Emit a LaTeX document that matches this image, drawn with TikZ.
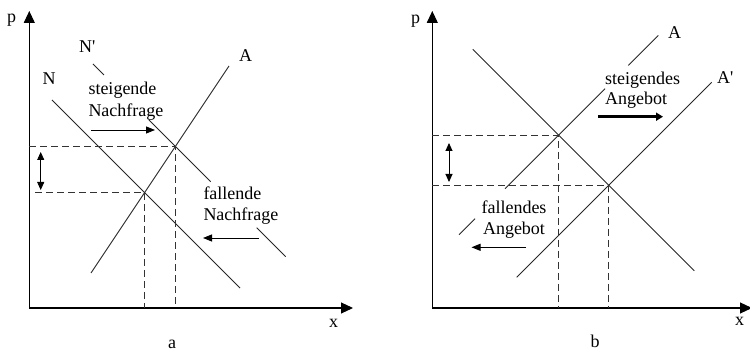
\documentclass[tikz,border=0pt]{standalone}
\usepackage{fontspec}
\setmainfont{Liberation Serif}
\usetikzlibrary{arrows.meta}
\begin{document}
\begin{tikzpicture}[x=1pt,y=-1pt,
  curve/.style={line width=0.9pt, black!85},
  axis/.style={line width=1.1pt, -{Triangle[length=12pt,width=11pt]}},
  helpline/.style={line width=0.9pt, dash pattern=on 7pt off 4pt, black!80},
  shiftarrow/.style={line width=0.9pt,-{Triangle[length=9pt,width=7pt]}},
  thickarrow/.style={line width=3pt,-{Triangle[length=7pt,width=8pt]}},
  dblarrow/.style={line width=0.9pt,{Triangle[length=8pt,width=7pt]}-{Triangle[length=8pt,width=7pt]}},
  lbl/.style={font=\fontsize{18}{21}\selectfont, inner sep=0pt, anchor=base west},
  lblc/.style={font=\fontsize{18}{21}\selectfont, inner sep=0pt, anchor=base},
  ]
\useasboundingbox (0,0) rectangle (750,352);

% ---------------- panel a ----------------
\coordinate (aO) at (29.3,308);
\coordinate (aY) at (29.3,11);
\coordinate (aX) at (353,308);
\draw[axis] (aO) -- (aY);
\draw[axis] (aO) -- (aX);
\node[lbl] (ap) at (7,23) {p};
\node[lbl] (ax) at (329,328) {x};
\node[lblc] (acap) at (172,349) {a};

% intersections
\coordinate (E1) at (144.6,192.6);
\coordinate (E2) at (175.4,146.4);

% N
\coordinate (N1) at (52,100);
\coordinate (N2) at (240,288);
\draw[curve] (N1) -- (N2);
% N'
\coordinate (Np1) at (93,64);
\coordinate (Np2) at (104,75);
\coordinate (Np3) at (149,120);
\coordinate (Np4) at (210.7,181.7);
\coordinate (Np5) at (256.7,227.7);
\coordinate (Np6) at (285.7,256.7);
\draw[curve] (Np1) -- (Np2);
\draw[curve] (Np3) -- (Np4);
\draw[curve] (Np5) -- (Np6);
% A
\coordinate (A1) at (91,273);
\coordinate (A2) at (229,66);
\draw[curve] (A1) -- (A2);

% dashed helpers
\coordinate (aH1) at (29.3,146.4);
\coordinate (aH2) at (35,192.6);
\coordinate (aV1) at (144.6,308);
\coordinate (aV2) at (175.4,308);
\draw[helpline] (aH1) -- (E2) -- (aV2);
\draw[helpline] (aH2) -- (E1) -- (aV1);

% double arrow
\coordinate (aD1) at (40.7,152);
\coordinate (aD2) at (40.7,190);
\draw[dblarrow] (aD1) -- (aD2);

% labels
\node[lbl] (lN) at (42.5,85) {N};
\node[lbl] (lNp) at (79,52.3) {N\textquotesingle};
\node[lbl] (lA) at (239,61.7) {A};
\node[lbl] (st1) at (88.3,95) {steigende};
\node[lbl] (st2) at (88.3,116.7) {Nachfrage};
\node[lbl] (fa1) at (203.3,199.3) {fallende};
\node[lbl] (fa2) at (203.3,220.7) {Nachfrage};

\coordinate (aS1) at (91,130);
\coordinate (aS2) at (155,130);
\draw[shiftarrow] (aS1) -- (aS2);
\coordinate (aF1) at (259,238);
\coordinate (aF2) at (203,238);
\draw[shiftarrow] (aF1) -- (aF2);

% ---------------- panel b ----------------
\coordinate (bO) at (432.3,308);
\coordinate (bY) at (432.3,11);
\coordinate (bX) at (752,308);
\draw[axis] (bO) -- (bY);
\draw[axis] (bO) -- (bX);
\node[lbl] (bp) at (411,24) {p};
\node[lbl] (bx) at (735,326) {x};
\node[lblc] (bcap) at (595,348) {b};

\coordinate (F1) at (558.5,135.2);
\coordinate (F2) at (608.7,185.3);

% N (unlabelled)
\coordinate (bN1) at (472.7,49.3);
\coordinate (bN2) at (694.3,270.9);
\draw[curve] (bN1) -- (bN2);
% A
\coordinate (bA1) at (658.3,35.4);
\coordinate (bA2) at (628.3,65.4);
\coordinate (bA3) at (605,88.7);
\coordinate (bA4) at (505,188.7);
\coordinate (bA5) at (475,218.7);
\coordinate (bA6) at (459,234.7);
\draw[curve] (bA1) -- (bA2);
\draw[curve] (bA3) -- (bA4);
\draw[curve] (bA5) -- (bA6);
% A'
\coordinate (bAp1) at (516.7,277.3);
\coordinate (bAp2) at (711.7,82.3);
\draw[curve] (bAp1) -- (bAp2);

% dashed helpers
\coordinate (bH1) at (432.3,135.2);
\coordinate (bH2) at (432.3,185.3);
\coordinate (bV1) at (558.5,308);
\coordinate (bV2) at (608.7,308);
\draw[helpline] (bH1) -- (F1) -- (bV1);
\draw[helpline] (bH2) -- (F2) -- (bV2);

% double arrow
\coordinate (bD1) at (449,143);
\coordinate (bD2) at (449,182);
\draw[dblarrow] (bD1) -- (bD2);

% labels
\node[lbl] (blA) at (668,38.3) {A};
\node[lbl] (blAp) at (717,83.3) {A\textquotesingle};
\node[lbl] (bs1) at (605,85) {steigendes};
\node[lbl] (bs2) at (605,105) {Angebot};
\node[lblc] (bf1) at (514,213.3) {fallendes};
\node[lblc] (bf2) at (514,235) {Angebot};

\coordinate (bT1) at (598,116.7);
\coordinate (bT2) at (663,116.7);
\draw[thickarrow] (bT1) -- (bT2);
\coordinate (bF1) at (526,247.3);
\coordinate (bF2) at (471.5,247.3);
\draw[shiftarrow] (bF1) -- (bF2);
\end{tikzpicture}
\end{document}
